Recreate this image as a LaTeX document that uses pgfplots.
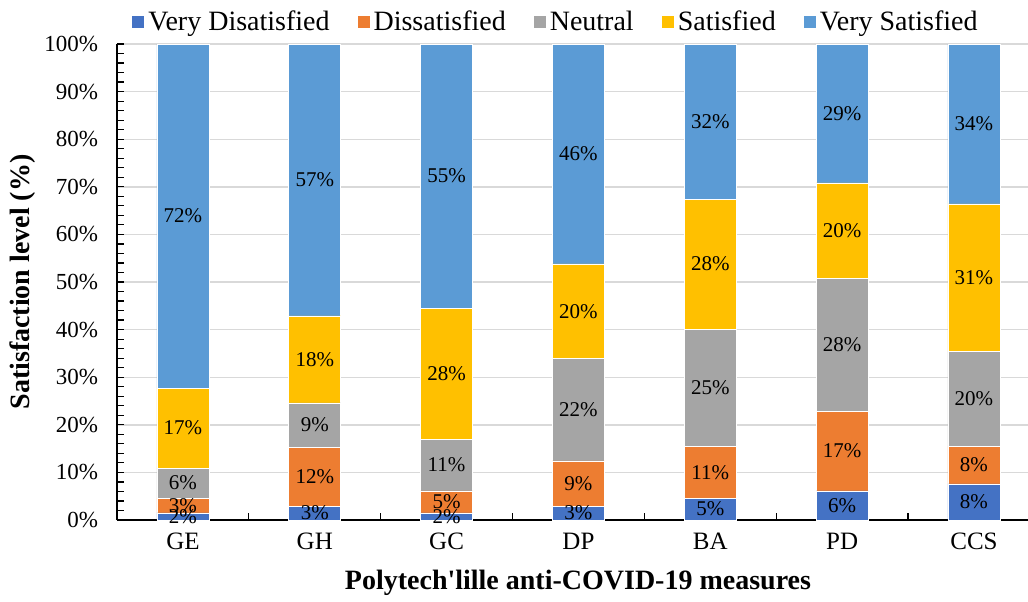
\documentclass[border=0pt]{standalone}
\usepackage{fontspec}
\setmainfont{Liberation Serif}
\usepackage{pgfplots}
\pgfplotsset{compat=1.18}
\usepackage{pgfplotstable}

\definecolor{cVD}{HTML}{4472C4}
\definecolor{cD}{HTML}{ED7D31}
\definecolor{cN}{HTML}{A5A5A5}
\definecolor{cS}{HTML}{FFC000}
\definecolor{cVS}{HTML}{5B9BD5}
\definecolor{gridgray}{HTML}{D9D9D9}

\pgfplotstableread{
x VD D N S VS
0 1.5 3.1 6.3 16.8 72.3
1 2.9 12.4 9.3 18.3 57.1
2 1.5 4.6 10.9 27.5 55.5
3 2.9 9.5 21.5 19.9 46.2
4 4.6 10.9 24.6 27.3 32.6
5 6.1 16.8 27.9 20.0 29.2
6 7.6 7.9 20.0 30.9 33.6
}\bardata

\pgfplotstableread{
x y l
0 0.75 2
0 3.05 3
0 7.75 6
0 19.3 17
0 63.85 72
1 1.45 3
1 9.1 12
1 19.95 9
1 33.75 18
1 71.45 57
2 0.75 2
2 3.8 5
2 11.55 11
2 30.75 28
2 72.25 55
3 1.45 3
3 7.65 9
3 23.15 22
3 43.85 20
3 76.9 46
4 2.3 5
4 10.05 11
4 27.8 25
4 53.75 28
4 83.7 32
5 3.05 6
5 14.5 17
5 36.85 28
5 60.8 20
5 85.4 29
6 3.8 8
6 11.55 8
6 25.5 20
6 50.95 31
6 83.2 34
}\labeldata

\pgfplotsset{
  common/.style={
    scale only axis,
    width=455.5pt, height=238pt,
    xmin=-0.5, xmax=6.41,
    ymin=0, ymax=100,
  }
}

\begin{document}
\begin{tikzpicture}
\useasboundingbox (-58.5pt,-40.5pt) rectangle (455.5pt,260pt);
\begin{axis}[
  common,
  ybar stacked,
  bar width=26pt,
  axis x line*=bottom,
  axis y line*=left,
  axis line style={black, line width=0.8pt},
  ytick={0,10,...,100},
  minor y tick num=4,
  tick align=inside,
  major tick length=3.5pt,
  minor tick length=3.5pt,
  tick style={black, line width=0.6pt},
  ymajorgrids,
  major grid style={gridgray, line width=0.7pt},
  yticklabel={\pgfmathprintnumber[assume math mode=true]{\tick}\%},
  yticklabel style={font=\fontsize{11.5}{13}\selectfont, xshift=-6pt},
  xtick={0.5,1.5,...,5.5},
  xticklabels={},
  extra x ticks={0,1,2,3,4,5,6},
  extra x tick labels={GE,GH,GC,DP,BA,PD,CCS},
  extra x tick style={major tick length=0pt, grid=none,
     tick label style={font=\fontsize{12.5}{14}\selectfont, yshift=-3pt}},
  xlabel={\textbf{Polytech\textquotesingle lille anti-COVID-19 measures}},
  xlabel style={at={(axis description cs:0.506,0)}, anchor=center, yshift=-31.5pt, font=\fontsize{14}{16}\selectfont},
  ylabel={\textbf{Satisfaction level (\%)}},
  ylabel style={at={(axis description cs:-0.104,0.5)}, anchor=center, font=\fontsize{14}{16}\selectfont},
  legend columns=-1,
  legend style={at={(axis description cs:0.483,1.046)}, anchor=center, draw=none, fill=none,
     font=\fontsize{14}{16}\selectfont,
     /tikz/every even column/.append style={column sep=12pt}},
  legend image code/.code={\fill[#1, draw=none] (0pt,-3pt) rectangle (6pt,3pt);},
]
\addplot[fill=cVD, draw=white, line width=0.3pt] table[x=x, y=VD] {\bardata};
\addplot[fill=cD, draw=white, line width=0.3pt] table[x=x, y=D] {\bardata};
\addplot[fill=cN, draw=white, line width=0.3pt] table[x=x, y=N] {\bardata};
\addplot[fill=cS, draw=white, line width=0.3pt] table[x=x, y=S] {\bardata};
\addplot[fill=cVS, draw=white, line width=0.3pt] table[x=x, y=VS] {\bardata};
\legend{Very Disatisfied, Dissatisfied, Neutral, Satisfied, Very Satisfied}
\end{axis}
\begin{axis}[
  common,
  hide axis,
  clip=false,
]
\addplot[draw=none, mark=none, nodes near coords={\pgfplotspointmeta\%},
  point meta=explicit symbolic,
  every node near coord/.style={anchor=center, inner sep=0pt, font=\fontsize{10.5}{12}\selectfont, text=black}]
  table[x=x, y=y, meta=l] {\labeldata};
\end{axis}
\end{tikzpicture}
\end{document}
